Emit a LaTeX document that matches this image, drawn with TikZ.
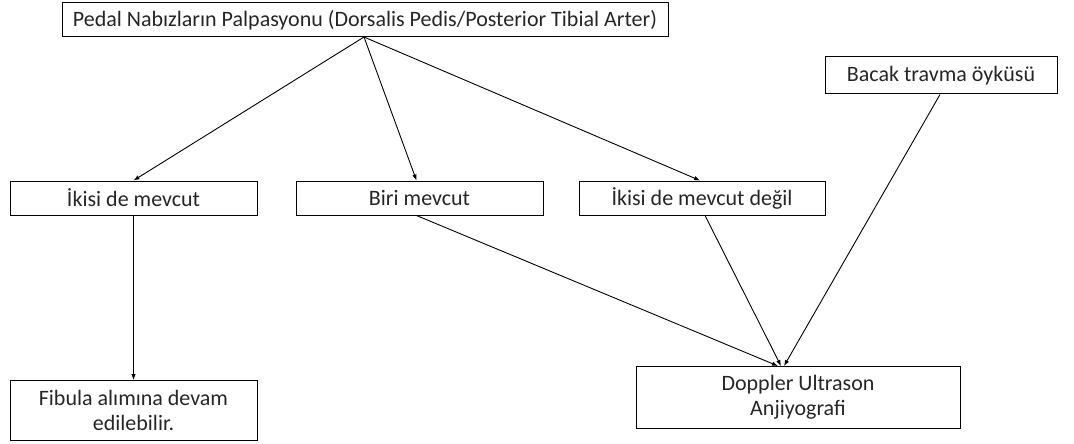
\documentclass[tikz,border=0pt]{standalone}
\usepackage{fontspec}
\setmainfont{Carlito}
\usetikzlibrary{arrows.meta}
\begin{document}
\begin{tikzpicture}[x=1pt,y=-1pt,
  box/.style={draw=black,line width=1pt,inner sep=0pt,font=\fontsize{22}{25}\selectfont,align=center,text=black!85},
  conn/.style={draw=black,line width=0.9pt,-{Latex[length=6pt,width=4.5pt]}}]
\useasboundingbox (0,0) rectangle (1074,444);
\node[box,minimum width=606pt,minimum height=34pt] (top) at (365,20) {Pedal Nabızların Palpasyonu (Dorsalis Pedis/Posterior Tibial Arter)};
\node[box,minimum width=247pt,minimum height=34pt] (both) at (133.5,198) {İkisi de mevcut};
\node[box,minimum width=247pt,minimum height=34pt] (one) at (419.5,198) {Biri mevcut};
\node[box,minimum width=246pt,minimum height=34pt] (none) at (702,198) {İkisi de mevcut değil};
\node[box,minimum width=232pt,minimum height=37pt] (trauma) at (941,75.5) {Bacak travma öyküsü};
\node[box,minimum width=247pt,minimum height=60pt] (fib) at (133.5,410.5) {Fibula alımına devam\\edilebilir.};
\node[box,minimum width=324pt,minimum height=62pt] (dop) at (798,397) {Doppler Ultrason\\Anjiyografi};
\coordinate (t0) at (364,37);
\coordinate (d1) at (778,366);
\coordinate (d2) at (781,366);
\coordinate (d3) at (784,366);
\draw[conn] (t0) -- (both.north);
\draw[conn] (t0) -- ([xshift=-3pt]one.north);
\draw[conn] (t0) -- ([xshift=-2pt]none.north);
\draw[conn] (both.south) -- (fib.north);
\draw[conn] ([xshift=-3pt]one.south) -- (d1);
\draw[conn] ([xshift=3pt]none.south) -- (d2);
\draw[conn] ([xshift=-1pt]trauma.south) -- (d3);
\end{tikzpicture}
\end{document}
